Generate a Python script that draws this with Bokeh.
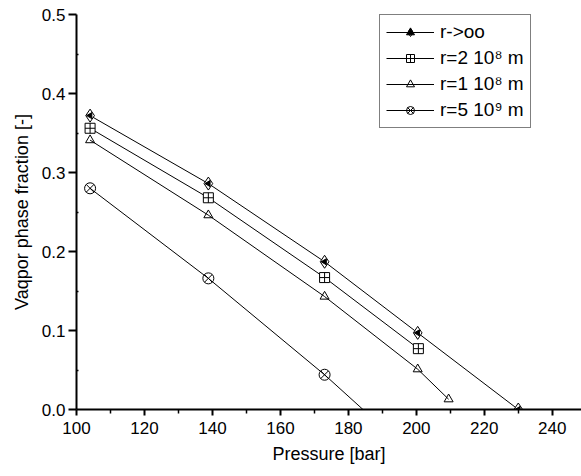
import math
from bokeh.plotting import figure
from bokeh.models import Legend, LegendItem, Range1d, FixedTicker
from bokeh.embed import file_html
from bokeh.resources import INLINE

# ---- data ----
p_inf = [104, 138.8, 173, 200.4, 230]
v_inf = [0.372, 0.286, 0.187, 0.097, 0.0]

p_2e8 = [104, 138.8, 173, 200.6]
v_2e8 = [0.356, 0.268, 0.167, 0.077]

p_1e8 = [104, 138.8, 173, 200.4, 209.5]
v_1e8 = [0.341, 0.246, 0.143, 0.051, 0.013]

p_5e9 = [104, 138.8, 173]
v_5e9 = [0.280, 0.166, 0.044]
p_5e9_line = [104, 138.8, 173, 184.3]
v_5e9_line = [0.280, 0.166, 0.044, 0.0]

labels = ["r->oo", "r=2 10\u2078 m", "r=1 10\u2078 m", "r=5 10\u2079 m"]
x_ticks = [100, 120, 140, 160, 180, 200, 220, 240]
y_ticks = [0.0, 0.1, 0.2, 0.3, 0.4, 0.5]

FONT = "Liberation Sans"

p = figure(width=581, height=476, output_backend="svg", toolbar_location=None,
           x_range=Range1d(100, 248.6), y_range=Range1d(0, 0.5),
           min_border_left=76, min_border_right=0, min_border_top=14, min_border_bottom=67)
p.outline_line_color = None
p.grid.visible = False
p.background_fill_color = "white"

for ax in (p.xaxis[0], p.yaxis[0]):
    ax.axis_line_width = 2
    ax.axis_line_color = "black"
    ax.major_tick_line_width = 2
    ax.major_tick_line_color = "black"
    ax.minor_tick_line_width = 1.5
    ax.minor_tick_line_color = "black"
    ax.major_label_text_font = FONT
    ax.major_label_text_font_size = "17px"
    ax.major_label_text_color = "black"
    ax.axis_label_text_font = FONT
    ax.axis_label_text_font_size = "18px"
    ax.axis_label_text_font_style = "normal"
    ax.axis_label_text_color = "black"
    ax.major_tick_in = 0

p.xaxis.ticker = FixedTicker(ticks=x_ticks, minor_ticks=[110, 130, 150, 170, 190, 210, 230])
p.xaxis.major_tick_out = 6
p.xaxis.minor_tick_out = 4
p.xaxis.minor_tick_in = 0
p.xaxis.major_label_standoff = 6
p.xaxis.axis_label = "Pressure [bar]"
p.xaxis.axis_label_standoff = 7

p.yaxis.ticker = FixedTicker(ticks=y_ticks, minor_ticks=[0.05, 0.15, 0.25, 0.35, 0.45])
p.yaxis.major_label_overrides = {0.0: "0.0", 0.1: "0.1", 0.2: "0.2", 0.3: "0.3", 0.4: "0.4", 0.5: "0.5"}
p.yaxis.major_tick_out = 8
p.yaxis.minor_tick_out = 0
p.yaxis.minor_tick_in = 2
p.yaxis.major_label_standoff = 3
p.yaxis.axis_label = "Vaqpor phase fraction [-]"
p.yaxis.axis_label_standoff = 7

lw = 1
# series 1: r->oo (half-filled diamond)
l1 = p.line(p_inf, v_inf, line_color="black", line_width=lw)
m1a = p.scatter(p_inf, v_inf, marker="diamond", size=13, fill_color="white", line_color="black", line_width=1)
m1b = p.scatter(p_inf, v_inf, marker="triangle", size=6, angle=math.pi / 2,
                fill_color="black", line_color="black", line_width=1)
# series 2
l2 = p.line(p_2e8, v_2e8, line_color="black", line_width=lw)
m2 = p.scatter(p_2e8, v_2e8, marker="square_cross", size=10, fill_color="white", line_color="black", line_width=1)
# series 3
l3 = p.line(p_1e8, v_1e8, line_color="black", line_width=lw)
m3 = p.scatter(p_1e8, v_1e8, marker="triangle", size=9, fill_alpha=0, line_color="black", line_width=1)
# series 4
l4 = p.line(p_5e9_line, v_5e9_line, line_color="black", line_width=lw)
m4 = p.scatter(p_5e9, v_5e9, marker="circle_x", size=11, fill_alpha=0, line_color="black", line_width=1)

items = [
    LegendItem(label=labels[0], renderers=[l1, m1a, m1b]),
    LegendItem(label=labels[1], renderers=[l2, m2]),
    LegendItem(label=labels[2], renderers=[l3, m3]),
    LegendItem(label=labels[3], renderers=[l4, m4]),
]
legend = Legend(items=items, location=(303, 281), margin=0,
                border_line_color="black", border_line_width=1,
                background_fill_color="white", background_fill_alpha=1,
                label_text_font=FONT, label_text_font_size="19px",
                label_text_color="black",
                glyph_width=48, glyph_height=20, label_height=20,
                spacing=4, padding=6, label_standoff=6)
p.add_layout(legend, "center")

open("out.html", "w").write(file_html(p, INLINE))
